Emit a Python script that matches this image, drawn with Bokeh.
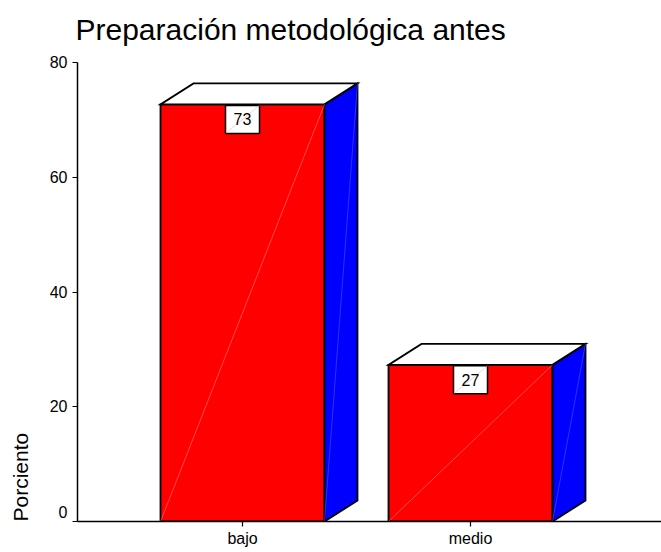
from bokeh.plotting import figure
from bokeh.models import FixedTicker
from bokeh.embed import file_html
from bokeh.resources import INLINE
from bokeh.core.properties import value
import math

categories = ["bajo", "medio"]
percent = [72.7, 27.3]
shown = ["73", "27"]
y_ticks = [0, 20, 40, 60, 80]
title_text = "Preparación metodológica antes"
y_title = "Porciento"

# drawing geometry in data units
BAR_HALF = 82 / 228
DX = 33 / 228
DY = 21 / 5.7375
BOX_HALF_W = 17 / 228
BOX_H = 28 / 5.7375
BOX_GAP = 1 / 5.7375
FONT = "Liberation Sans"
X0 = -165 / 228

p = figure(width=661, height=552, output_backend="svg", toolbar_location=None,
           x_range=(X0, 419 / 228), y_range=(0, 80),
           min_border_left=77, min_border_right=0, min_border_top=62, min_border_bottom=31,
           outline_line_color=None, background_fill_color="white", border_fill_color="white")
p.grid.visible = False

pos = list(range(len(categories)))
L = [i - BAR_HALF for i in pos]
R = [i + BAR_HALF for i in pos]

p.patches([[l, r, r, l] for l, r in zip(L, R)],
          [[0, 0, v, v] for v in percent],
          fill_color="#FF0000", line_color="black", line_width=1.8, line_join="miter")
p.patches([[r, r + DX, r + DX, r] for r in R],
          [[0, DY, v + DY, v] for v in percent],
          fill_color="#0000FF", line_color="black", line_width=1.8, line_join="miter")
p.patches([[l, r, r + DX, l + DX] for l, r in zip(L, R)],
          [[v, v, v + DY, v + DY] for v in percent],
          fill_color="white", line_color="black", line_width=1.8, line_join="miter")

# faint diagonals left by the shading of each face
p.segment(L, [0] * len(pos), R, percent, line_color="#FF7A7A", line_width=0.6)
p.segment(R, [0] * len(pos), [r + DX for r in R], [v + DY for v in percent],
          line_color="#5050FF", line_width=0.6)

# value boxes
box_top = [v - BOX_GAP for v in percent]
box_bot = [t - BOX_H for t in box_top]
p.quad(left=[i - BOX_HALF_W for i in pos], right=[i + BOX_HALF_W for i in pos],
       top=box_top, bottom=box_bot, fill_color="white", line_color="black", line_width=1.5)
p.segment([i - BOX_HALF_W for i in pos], box_bot, [i + BOX_HALF_W for i in pos], box_top,
          line_color="#FFB0B0", line_width=0.6)
p.text(pos, [(t + b) / 2 for t, b in zip(box_top, box_bot)], text=shown,
       text_font=value(FONT), text_font_size="16px", text_color="black",
       text_align="center", text_baseline="middle")

# axes
p.xaxis.ticker = FixedTicker(ticks=pos)
p.xaxis.major_label_overrides = {i: c for i, c in zip(pos, categories)}
p.xaxis.major_label_text_font = FONT
p.xaxis.major_label_text_font_size = "16px"
p.xaxis.major_label_text_color = "black"
p.xaxis.major_label_standoff = 3
p.yaxis.ticker = FixedTicker(ticks=y_ticks)
p.yaxis.major_label_overrides = {0: " "}
p.yaxis.major_label_text_font = FONT
p.yaxis.major_label_text_font_size = "16px"
p.yaxis.major_label_text_color = "black"
p.yaxis.major_label_standoff = 5
for ax in (p.xaxis, p.yaxis):
    ax.axis_line_color = "black"
    ax.axis_line_width = 1.5
    ax.major_tick_line_color = "black"
    ax.major_tick_line_width = 1.2
    ax.major_tick_in = 0
    ax.major_tick_out = 5
    ax.minor_tick_line_color = None

p.text([X0], [y_ticks[0]], text=[str(y_ticks[0])], x_offset=-10, y_offset=-10,
       text_font=value(FONT), text_font_size="16px", text_color="black",
       text_align="right", text_baseline="middle", level="overlay")

p.text([X0], [y_ticks[0]], text=[y_title], x_offset=-57, angle=math.pi / 2,
       text_font=value(FONT), text_font_size="21px", text_color="black",
       text_align="left", text_baseline="alphabetic", level="overlay")

p.text([X0], [y_ticks[-1]], text=[title_text], x_offset=-2, y_offset=-33,
       text_font=value(FONT), text_font_size="30px", text_color="black",
       text_align="left", text_baseline="alphabetic", level="overlay")

open("out.html", "w").write(file_html(p, INLINE))
